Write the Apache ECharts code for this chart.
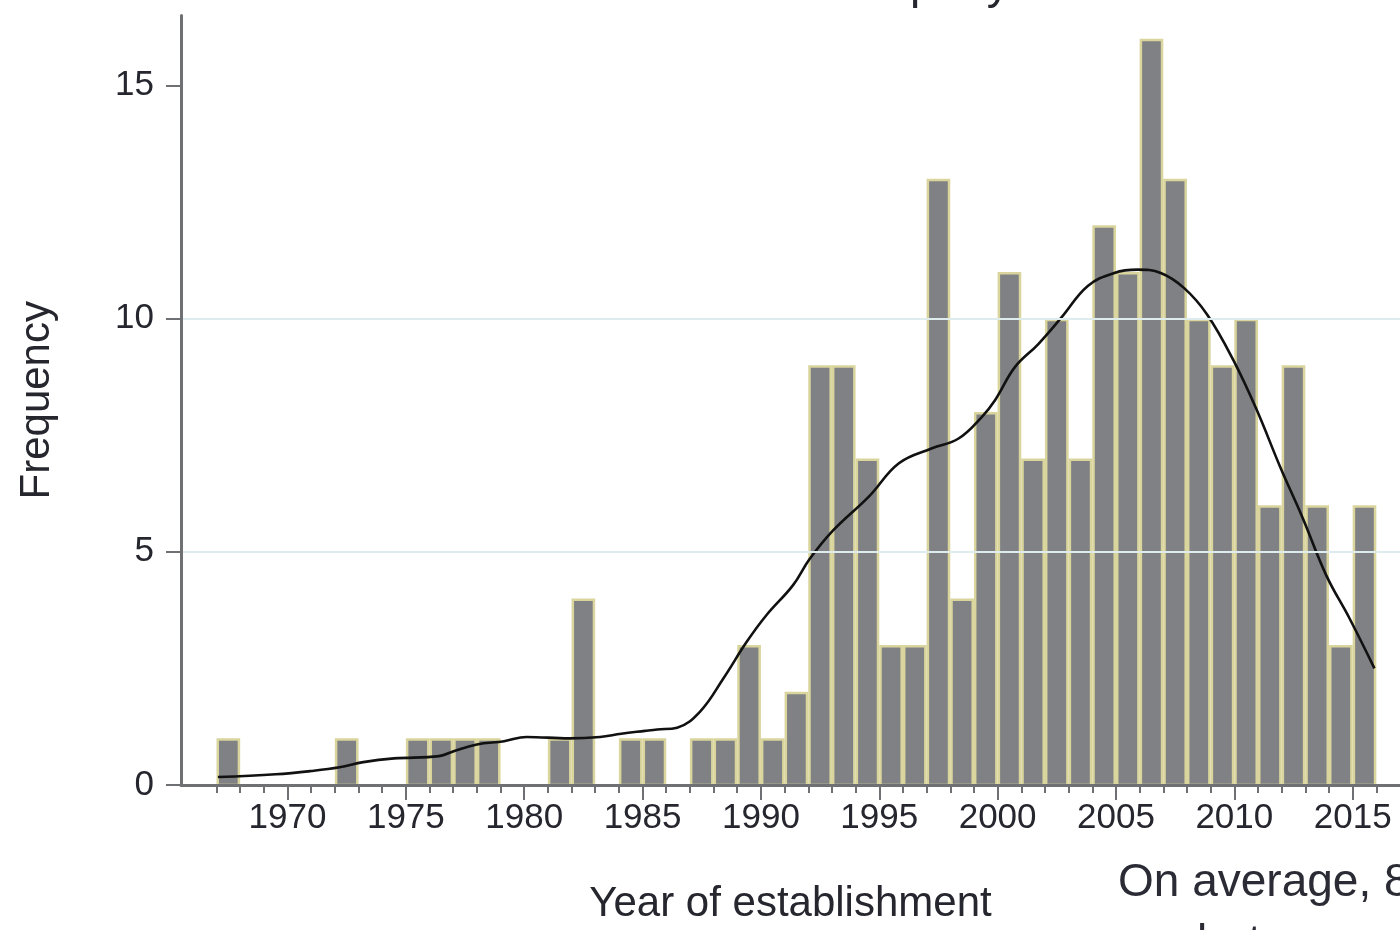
<!DOCTYPE html>
<html>
<head>
<meta charset="utf-8">
<script src="https://cdn.jsdelivr.net/npm/echarts@6/dist/echarts.min.js"></script>
<style>
html,body{margin:0;padding:0;background:#fff;}
#chart{width:1400px;height:930px;}
</style>
</head>
<body>
<div id="chart"></div>
<script>
// Histogram bins: each bar covers [year, year + 1)
const binYears = [1967,1968,1969,1970,1971,1972,1973,1974,1975,1976,1977,1978,1979,1980,1981,1982,1983,1984,1985,1986,1987,1988,1989,1990,1991,1992,1993,1994,1995,1996,1997,1998,1999,2000,2001,2002,2003,2004,2005,2006,2007,2008,2009,2010,2011,2012,2013,2014,2015];
const binCounts = [1,0,0,0,0,1,0,0,1,1,1,1,0,0,1,4,0,1,1,0,1,1,3,1,2,9,9,7,3,3,13,4,8,11,7,10,7,12,11,16,13,10,9,10,6,9,6,3,6];

// Smoothed density curve (scaled to frequency)
const curveYears = [1967.06,1969.5,1971.0,1972.2,1973.2,1974.5,1976.4,1977.05,1978.0,1979.15,1980.1,1981.9,1983.2,1984.1,1985.1,1985.62,1986.46,1987.44,1988.42,1989.4,1990.23,1991.35,1992.05,1993.03,1994.57,1995.83,1997.23,1998.35,1999.33,1999.89,2000.73,2001.71,2002.69,2003.81,2004.93,2005.91,2006.89,2007.87,2008.85,2009.97,2010.95,2011.93,2012.91,2013.89,2014.87,2015.92];
const curveValues = [0.17,0.23,0.30,0.38,0.49,0.57,0.62,0.73,0.87,0.94,1.03,1.00,1.03,1.10,1.16,1.19,1.23,1.58,2.29,3.07,3.64,4.28,4.84,5.45,6.19,6.90,7.22,7.43,7.89,8.25,8.96,9.45,10.02,10.70,10.98,11.05,10.98,10.66,10.09,9.10,8.04,6.83,5.70,4.49,3.57,2.50];

// Tick labels
const xMajorTicks = [1970,1975,1980,1985,1990,1995,2000,2005,2010,2015];
const xMinorTicks = [1967,1968,1969,1970,1971,1972,1973,1974,1975,1976,1977,1978,1979,1980,1981,1982,1983,1984,1985,1986,1987,1988,1989,1990,1991,1992,1993,1994,1995,1996,1997,1998,1999,2000,2001,2002,2003,2004,2005,2006,2007,2008,2009,2010,2011,2012,2013,2014,2015,2016];
const yTicks = [0,5,10,15];

const FONT = '"Liberation Sans", Arial, sans-serif';
const TXT = '#26262f';
const AXIS = '#6f7073';

const chart = echarts.init(document.getElementById('chart'), null, {renderer: 'canvas'});

const barData = binYears.map((y, i) => [y, binCounts[i]]);
const lineData = curveYears.map((y, i) => [y, curveValues[i]]);

chart.setOption({
  backgroundColor: '#ffffff',
  animation: false,
  grid: {left: 181, right: -7.5, top: 15.5, bottom: 139, containLabel: false},
  xAxis: [
    {
      type: 'value', min: 1965.5, max: 2017, position: 'bottom', z: 5,
      name: 'Year of establishment', nameLocation: 'middle', nameGap: 98,
      nameTextStyle: {fontFamily: FONT, fontSize: 42, color: TXT, verticalAlign: 'top'},
      axisLine: {show: true, onZero: false, lineStyle: {color: AXIS, width: 3}},
      axisTick: {show: true, length: 15, customValues: xMajorTicks, lineStyle: {color: AXIS, width: 2}},
      axisLabel: {show: true, customValues: xMajorTicks, margin: 16, fontFamily: FONT, fontSize: 35, color: TXT, formatter: v => String(v)},
      splitLine: {show: false}
    },
    {
      type: 'value', min: 1965.5, max: 2017, position: 'bottom', offset: 0, z: 5,
      axisLine: {show: false, onZero: false},
      axisTick: {show: true, length: 8, customValues: xMinorTicks, lineStyle: {color: AXIS, width: 2}},
      axisLabel: {show: false},
      splitLine: {show: false}
    }
  ],
  yAxis: {
    type: 'value', min: 0, max: 16.5, interval: 5, z: 5,
    name: 'Frequency', nameLocation: 'middle', nameGap: 123, nameRotate: 90,
    nameTextStyle: {fontFamily: FONT, fontSize: 42, color: TXT},
    axisLine: {show: true, onZero: false, lineStyle: {color: AXIS, width: 3}},
    axisTick: {show: true, length: 15, customValues: yTicks, lineStyle: {color: AXIS, width: 2}},
    axisLabel: {show: true, customValues: yTicks, margin: 27, fontFamily: FONT, fontSize: 35, color: TXT},
    splitLine: {show: true, showMinLine: false, showMaxLine: false, lineStyle: {color: '#dfeced', width: 2}}
  },
  series: [
    {
      type: 'custom',
      xAxisIndex: 0,
      data: barData,
      renderItem: function (params, api) {
        const x0 = api.value(0);
        const v = api.value(1);
        if (!v) return null;
        const p0 = api.coord([x0, 0]);
        const p1 = api.coord([x0 + 1, v]);
        const bw = 2.5;
        return {
          type: 'rect',
          shape: {x: p0[0] + bw / 2, y: p1[1] + bw / 2, width: p1[0] - p0[0] - bw, height: p0[1] - p1[1] - bw / 2},
          style: {fill: '#808184', stroke: '#d9d59d', lineWidth: bw}
        };
      }
    },
    {
      type: 'line',
      xAxisIndex: 0,
      data: lineData,
      showSymbol: false,
      smooth: 0.4,
      lineStyle: {color: '#111111', width: 2.6},
      z: 3
    }
  ],
  graphic: [
    {type: 'text', left: 823, top: -38, style: {text: 'company', font: '46px ' + FONT, fill: TXT}},
    {type: 'text', left: 1118, top: 860, style: {text: 'On average, 8 companies', font: '46px ' + FONT, fill: '#2b2b35'}},
    {type: 'text', left: 1197, top: 921, style: {text: 'between', font: '46px ' + FONT, fill: '#2b2b35'}}
  ]
});
</script>
</body>
</html>
